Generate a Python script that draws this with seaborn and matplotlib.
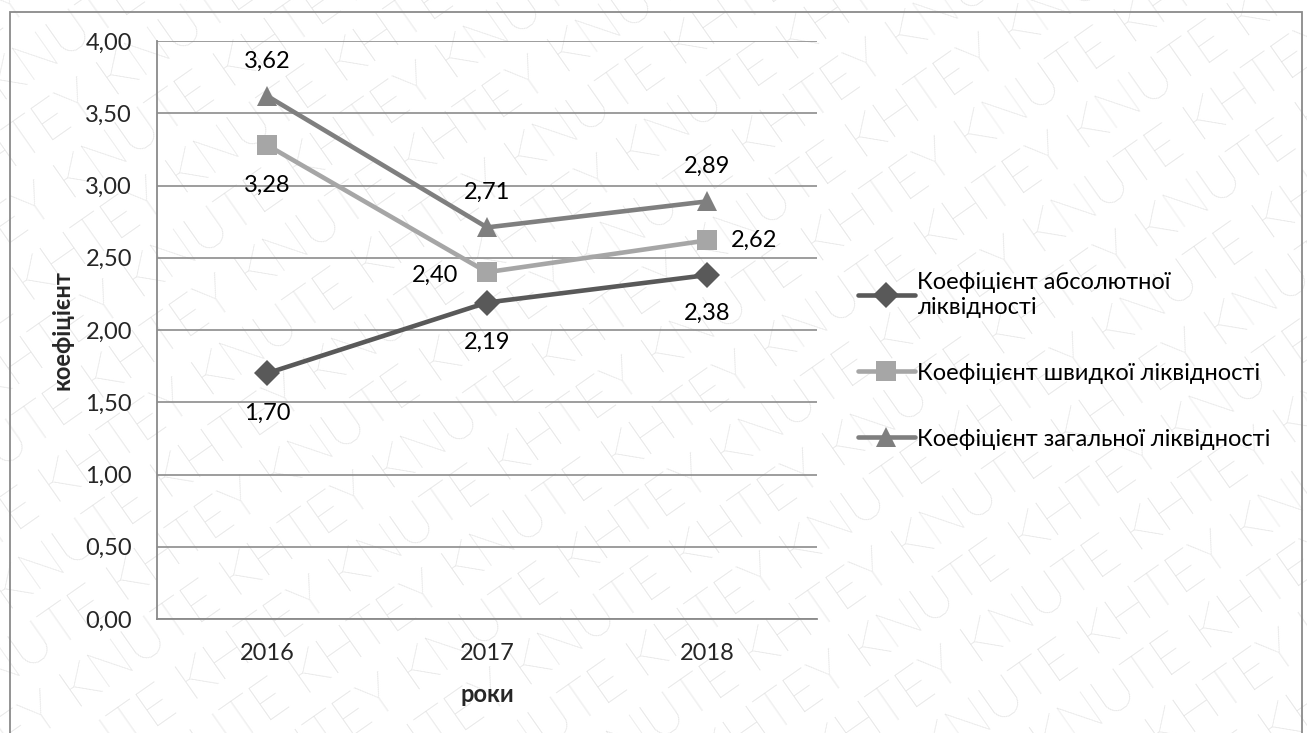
import numpy as np
import pandas as pd
import matplotlib
matplotlib.use("Agg")
import matplotlib.pyplot as plt
import matplotlib.patches as mpatches
import seaborn as sns

# ------------------------------------------------------------------
# Дані
# ------------------------------------------------------------------
roky = ["2016", "2017", "2018"]
abs_likv = [1.70, 2.19, 2.38]
shvyd_likv = [3.28, 2.40, 2.62]
zag_likv = [3.62, 2.71, 2.89]

nazvy = ["Коефіцієнт абсолютної\nліквідності",
         "Коефіцієнт швидкої ліквідності",
         "Коефіцієнт загальної ліквідності"]
ryady = [abs_likv, shvyd_likv, zag_likv]

kolory = ["#595959", "#a6a6a6", "#7f7f7f"]
markery = ["D", "s", "^"]
rozmir = [13, 14, 15]
# зсув підписів даних у пікселях (dx, dy) для кожної точки
zsuvy = [[(0, -40), (0, -40), (0, -38)],
         [(0, -40), (-52, -3), (47, 0)],
         [(0, 35), (0, 35), (0, 35)]]

# ------------------------------------------------------------------
# Оформлення
# ------------------------------------------------------------------
sns.set_theme(style="white")
plt.rcParams["font.family"] = ["Lato", "Open Sans", "DejaVu Sans"]
plt.rcParams["text.color"] = "black"
fs = 17

fig = plt.figure(figsize=(13.07, 7.33), dpi=100)
ax = fig.add_axes([157 / 1307, 1 - 619 / 733, 660 / 1307, 578 / 733])
ax.set_facecolor("none")

# водяний знак
kut = 35
u = np.array([np.cos(np.radians(kut)), np.sin(np.radians(kut))])
n = np.array([-u[1], u[0]])
for i in range(-13, 14):
    c = np.array([650, 370]) + i * 60 * n + (i % 2) * 95 * u
    ryadok = "KNUTE KHTEY " * 6
    fig.text(c[0] / 1307, c[1] / 733, ryadok, rotation=kut, rotation_mode="anchor",
             ha="center", va="center", fontsize=40, color="#dedede",
             family="Lato", fontweight="light", zorder=-5)

# рамка
fig.add_artist(mpatches.Rectangle((10 / 1307, -0.05), 1292 / 1307, 1.05 - 12 / 733,
                                  transform=fig.transFigure, fill=False,
                                  edgecolor="#8a8a8a", linewidth=1.3, zorder=-1))

for vals, nazva, kol, mk, ms in zip(ryady, nazvy, kolory, markery, rozmir):
    sns.lineplot(x=roky, y=vals, ax=ax, color=kol, linewidth=3.3, marker=mk,
                 markersize=ms, markeredgewidth=0, label=nazva, zorder=3)

# підписи даних
for k, vals in enumerate(ryady):
    for j, v in enumerate(vals):
        ax.annotate(f"{v:.2f}".replace(".", ","), (j, v), xytext=zsuvy[k][j],
                    textcoords="offset pixels", ha="center", va="center",
                    fontsize=fs, zorder=4)

ax.set_ylim(0, 4)
ax.set_xlim(-0.5, 2.5)
yt = np.arange(0, 4.01, 0.5)
ax.set_yticks(yt)
ax.set_yticklabels([f"{t:.2f}".replace(".", ",") for t in yt], fontsize=fs)
ax.set_xticks([-0.5, 0.5, 1.5, 2.5])
ax.set_xticklabels([])
ax.set_xticks([0, 1, 2], minor=True)
ax.set_xticklabels(roky, minor=True, fontsize=fs)
ax.tick_params(axis="x", which="major", length=6, width=1.2, color="#8a8a8a", direction="out")
ax.tick_params(axis="x", which="minor", length=0, pad=17)
ax.tick_params(axis="y", length=5, width=1.2, color="#8a8a8a", direction="out", pad=13)
ax.yaxis.grid(True, color="#8c8c8c", linewidth=1.2)
ax.set_axisbelow(True)
for s in ["top", "right"]:
    ax.spines[s].set_visible(False)
for s in ["left", "bottom"]:
    ax.spines[s].set_color("#8a8a8a")
    ax.spines[s].set_linewidth(1.3)

ax.set_xlabel("роки", fontsize=fs, fontweight="bold")
ax.set_ylabel("коефіцієнт", fontsize=fs, fontweight="bold")
ax.xaxis.set_label_coords(0.5, -0.111)
ax.yaxis.set_label_coords(-0.127, 0.5)

h, l = ax.get_legend_handles_labels()
ax.get_legend().remove()
fig.legend(h, l, loc="center left", bbox_to_anchor=(858 / 1307, 1 - 361 / 733),
           frameon=False, fontsize=fs, handlelength=2.4, handletextpad=0.12,
           borderpad=0, borderaxespad=0, labelspacing=1.9)

fig.savefig("out.png", dpi=100)
